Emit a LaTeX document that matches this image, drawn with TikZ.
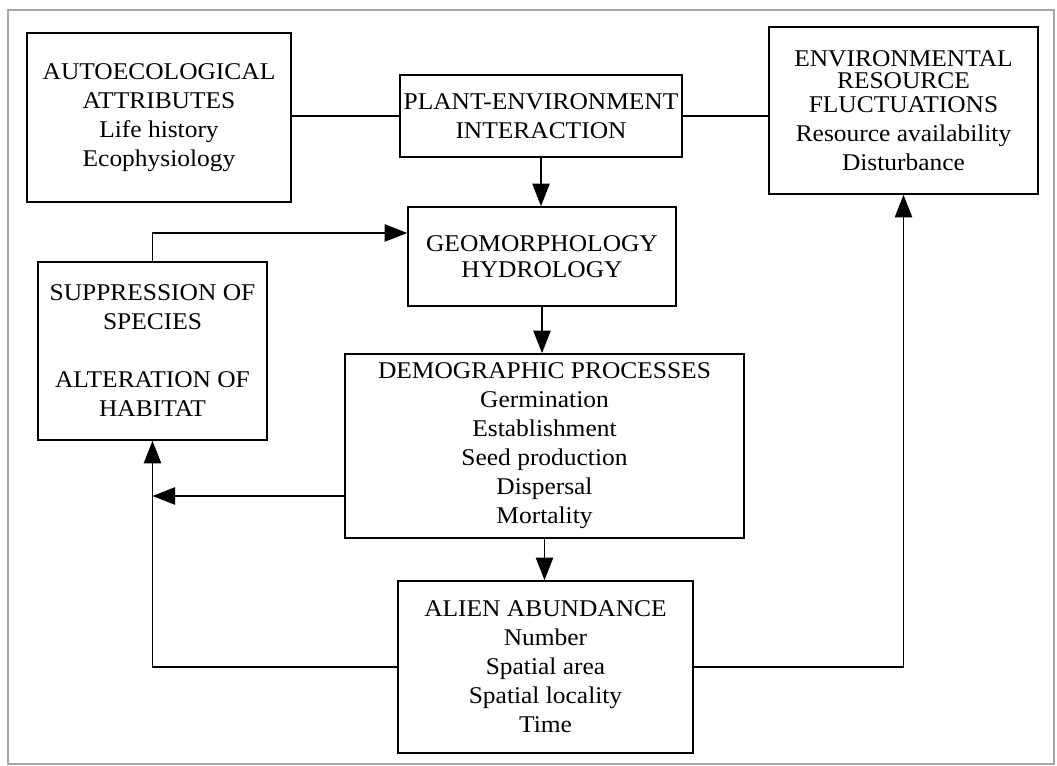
\documentclass[tikz,border=0pt]{standalone}
\usepackage{fontspec}
\setmainfont{Liberation Serif}[FakeStretch=1.06]
\usetikzlibrary{arrows.meta}
\begin{document}
\begin{tikzpicture}[x=0.75pt,y=-0.75pt,
  box/.style={draw=black, line width=1.2pt, align=center, inner sep=0pt,
    font=\fontsize{18}{21.75}\selectfont},
  conn/.style={draw=black, line width=1.2pt},
  arr/.style={conn, -{Triangle[length=17pt,width=13pt]}}]
\useasboundingbox (0,0) rectangle (1057,766);
\draw[gray!70, line width=0.9pt] (8,10) rectangle (1054,764);

\node[box, minimum width=198pt, minimum height=126.75pt] (auto) at (159,117.5)
  {AUTOECOLOGICAL\\ATTRIBUTES\\Life history\\Ecophysiology};
\node[box, minimum width=211.5pt, minimum height=61.5pt] (plant) at (541,116)
  {PLANT-ENVIRONMENT\\INTERACTION};
\node[box, minimum width=201.75pt, minimum height=125.25pt] (env) at (903.5,110.5)
  {ENVIRONMENTAL\\[-5pt]RESOURCE\\[-4pt]FLUCTUATIONS\\Resource availability\\Disturbance};
\node[box, minimum width=201pt, minimum height=74.25pt] (geo) at (542,256.5)
  {GEOMORPHOLOGY\\[-2pt]HYDROLOGY};
\node[box, minimum width=171.75pt, minimum height=133.5pt] (supp) at (152.5,351)
  {SUPPRESSION OF\\SPECIES\\[21.75pt]ALTERATION OF\\HABITAT};
\node[box, minimum width=299.25pt, minimum height=138pt] (demo) at (544.5,446)
  {DEMOGRAPHIC PROCESSES\\Germination\\Establishment\\Seed production\\Dispersal\\Mortality};
\node[box, minimum width=221.25pt, minimum height=129pt] (alien) at (545.5,667)
  {ALIEN ABUNDANCE\\Number\\Spatial area\\Spatial locality\\Time};

\coordinate (fb) at (152.5,233);
\coordinate (dj) at (152.5,496);

\draw[conn] (plant.west) -- (plant.west -| auto.east);
\draw[conn] (plant.east) -- (plant.east -| env.west);
\draw[arr] (plant.south) -- (plant.south |- geo.north);
\draw[arr] (geo.south) -- (geo.south |- demo.north);
\draw[arr] (demo.south) -- (demo.south |- alien.north);
\draw[arr] (supp.north) -- (fb) -- (fb -| geo.west);
\draw[arr] (alien.west) -| (supp.south);
\draw[arr] (dj -| demo.west) -- (dj);
\draw[arr] (alien.east) -| (env.south);
\end{tikzpicture}
\end{document}
